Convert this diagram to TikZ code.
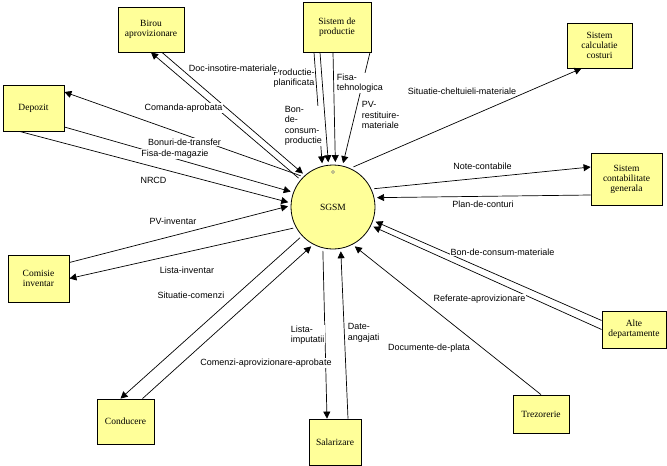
\documentclass[tikz,border=0pt]{standalone}
\usepackage{fontspec}
\setmainfont{Liberation Serif}
\newfontfamily\labelfont{Liberation Sans}
\usetikzlibrary{arrows.meta}
\definecolor{boxyellow}{RGB}{255,255,153}

\begin{document}
\begin{tikzpicture}[x=1pt,y=-1pt,
  entity/.style={draw,fill=boxyellow,line width=0.8pt,inner sep=1pt,align=center,
    font=\fontsize{9.5}{10}\selectfont},
  flow/.style={line width=0.7pt,-{Triangle[length=7pt,width=7pt]}},
  flowlabel/.style={fill=white,inner sep=0.6pt,align=left,
    font=\labelfont\fontsize{9}{10.5}\selectfont}]
\fill[white] (0,0) rectangle (667,466);
\useasboundingbox (0,0) rectangle (667,466);

% --- the central process
\node[draw,circle,fill=boxyellow,line width=0.8pt,minimum size=84,outer sep=3pt,
  font=\fontsize{9.5}{10}\selectfont] (sgsm) at (333,207) {SGSM};
\draw[gray] (333,172) circle [radius=1.5];

% --- the outside entities
\node[entity,minimum width=66,minimum height=45] (birou) at (151,29.5) {Birou\\aprovizionare};
\node[entity,minimum width=68,minimum height=50] (prod) at (337,27) {Sistem de\\productie};
\node[entity,minimum width=61,minimum height=46] (depozit) at (33.5,108) {Depozit};
\node[entity,minimum width=65,minimum height=45] (calc) at (599.5,45.5) {Sistem\\calculatie\\costuri};
\node[entity,minimum width=71,minimum height=52] (contab) at (626.5,179) {Sistem\\contabilitate\\generala};
\node[entity,minimum width=61,minimum height=47] (comisie) at (38.5,278.5) {Comisie\\inventar};
\node[entity,minimum width=57,minimum height=45] (conducere) at (125.5,421.5) {Conducere};
\node[entity,minimum width=52,minimum height=46] (salarizare) at (335,442) {Salarizare};
\node[entity,minimum width=56,minimum height=38] (trezorerie) at (541,414) {Trezorerie};
\node[entity,minimum width=64,minimum height=37] (alte) at (634,329.5) {Alte\\departamente};

% ---- flows with Birou aprovizionare
\draw[flow] (sgsm.140) -- (birou.south);
\draw[flow] ([xshift=11pt]birou.south) -- (sgsm.132);
% ---- flows with Depozit
\draw[flow] (sgsm.136) -- ([yshift=16pt]depozit.east);
\draw[flow] ([yshift=-19pt]depozit.east) -- (sgsm.160);
\draw[flow] ([xshift=-14pt]depozit.south) -- (sgsm.174);
% ---- flows with Comisie inventar
\draw[flow] ([yshift=16pt]comisie.east) -- (sgsm.179);
\draw[flow] (sgsm.208) -- (comisie.east);
% ---- flows with Conducere
\draw[flow] (sgsm.223) -- ([xshift=-5pt]conducere.north);
\draw[flow] ([xshift=17pt]conducere.north) -- (sgsm.241);
% ---- flows with Salarizare
\draw[flow] (sgsm.257) -- ([xshift=-8pt]salarizare.north);
\draw[flow] ([xshift=13pt]salarizare.north) -- (sgsm.280);
% ---- flows with Trezorerie and Alte departamente
\draw[flow] (trezorerie.north) -- (sgsm.299);
\draw[flow] ([yshift=9pt]alte.west) -- (sgsm.341);
\draw[flow] (alte.west) -- (sgsm.334);
% ---- flows with the two accounting systems
\draw[flow] (sgsm.24) -- ([yshift=12pt]contab.west);
\draw[flow] ([yshift=-16pt]contab.west) -- (sgsm.12);
\draw[flow] (sgsm.63) -- ([xshift=-18pt]calc.south);
% ---- flows from Sistem de productie
\draw[flow] ([xshift=-23pt]prod.south) -- (sgsm.104);
\draw[flow] ([xshift=-17pt]prod.south) -- (sgsm.96.5);
\draw[flow] ([xshift=-4pt]prod.south) -- (sgsm.87.5);
\draw[flow] ([xshift=33pt]prod.south) -- (sgsm.77);

% --- the flow names
\node[flowlabel,align=center] (lplan) at (294,78) {Productie-\\planificata};
\node[flowlabel] (ldoc) at (233,68) {Doc-insotire-materiale};
\node[flowlabel] (lcomanda) at (183.5,108) {Comanda-aprobata};
\node[flowlabel] (lbonuri) at (184.5,142) {Bonuri-de-transfer};
\node[flowlabel] (lfisa) at (175,154) {Fisa-de-magazie};
\node[flowlabel] (lnrcd) at (153.5,180) {NRCD};
\node[flowlabel] (lpv) at (173,221) {PV-inventar};
\node[flowlabel] (llista) at (187,270) {Lista-inventar};
\node[flowlabel] (lsituatie) at (191,295) {Situatie-comenzi};
\node[flowlabel,anchor=west] (limput) at (290,335) {Lista-\\imputatii};
\node[flowlabel] (lcomenzi) at (266,363) {Comenzi-aprovizionare-aprobate};
\node[flowlabel,anchor=west] (ldate) at (347,333) {Date-\\angajati};
\node[flowlabel] (ldocplata) at (429,348) {Documente-de-plata};
\node[flowlabel] (lreferate) at (479.5,299) {Referate-aprovizionare};
\node[flowlabel] (lbonmat) at (502.5,252) {Bon-de-consum-materiale};
\node[flowlabel] (lconturi) at (483,204) {Plan-de-conturi};
\node[flowlabel] (lnote) at (482.5,166) {Note-contabile};
\node[flowlabel] (lchelt) at (462,91) {Situatie-cheltuieli-materiale};
\node[flowlabel,anchor=west] (lbonprod) at (284,126) {Bon-\\de-\\consum-\\productie};
\node[flowlabel,anchor=west] (ltehno) at (336,83) {Fisa-\\tehnologica};
\node[flowlabel,anchor=west] (lrestit) at (361,115) {PV-\\restituire-\\materiale};
\end{tikzpicture}
\end{document}
